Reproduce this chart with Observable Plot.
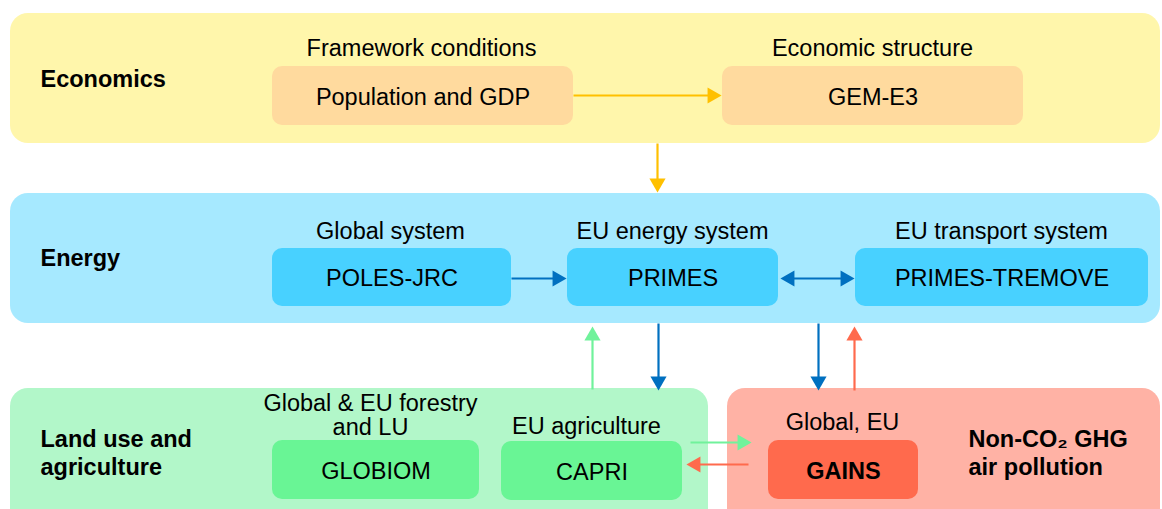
<!DOCTYPE html>
<html><head><meta charset="utf-8">
<script src="https://cdn.jsdelivr.net/npm/d3@7"></script>
<script src="https://cdn.jsdelivr.net/npm/@observablehq/plot@0.6"></script>
<style>
html,body{margin:0;padding:0;background:#fff;}
#chart svg{display:block;}
</style>
</head><body><div id="chart"></div>
<script>
// ---- Data (diagram layout in pixel units of the 1162x509 canvas) ----
const panels = [
  {id: "econ",   x1: 10,  x2: 1160, y1: 13,  y2: 143},
  {id: "energy", x1: 10,  x2: 1160, y1: 193, y2: 323},
  {id: "land",   x1: 10,  x2: 708,  y1: 388, y2: 540},
  {id: "nonco2", x1: 727, x2: 1160, y1: 388, y2: 540}
];
const panelLabels = [
  {text: "Economics", x: 40, y: 78},
  {text: "Energy", x: 40, y: 257},
  {text: "Land use and\nagriculture", x: 40, y: 452},
  {text: "Non-CO\u2082 GHG\nair pollution", x: 968, y: 452}
];
const models = [
  {name: "Population and GDP", panel: "econ",   x1: 272, x2: 573,  y1: 66,  y2: 125},
  {name: "GEM-E3",             panel: "econ",   x1: 722, x2: 1023, y1: 66,  y2: 125},
  {name: "POLES-JRC",          panel: "energy", x1: 272, x2: 511,  y1: 248, y2: 306},
  {name: "PRIMES",             panel: "energy", x1: 567, x2: 778,  y1: 248, y2: 306},
  {name: "PRIMES-TREMOVE",     panel: "energy", x1: 855, x2: 1148, y1: 248, y2: 306},
  {name: "GLOBIOM",            panel: "land",   x1: 272, x2: 479,  y1: 440, y2: 499},
  {name: "CAPRI",              panel: "land",   x1: 501, x2: 682,  y1: 441, y2: 500},
  {name: "GAINS",              panel: "nonco2", x1: 768, x2: 918,  y1: 440, y2: 499}
];
const headers = [
  {text: "Framework conditions", x: 421, y: 48},
  {text: "Economic structure", x: 872, y: 48},
  {text: "Global system", x: 390, y: 231},
  {text: "EU energy system", x: 672, y: 231},
  {text: "EU transport system", x: 1001, y: 231},
  {text: "Global & EU forestry\nand LU", x: 370, y: 415},
  {text: "EU agriculture", x: 586, y: 426},
  {text: "Global, EU", x: 842, y: 422}
];
const links = [
  {from: "Population and GDP", to: "GEM-E3",        x1: 573, y1: 95,  x2: 721, y2: 95,  kind: "econ",   both: false},
  {from: "Economics",          to: "Energy",        x1: 657, y1: 143, x2: 657, y2: 192, kind: "econ",   both: false},
  {from: "POLES-JRC",          to: "PRIMES",        x1: 511, y1: 278, x2: 566, y2: 278, kind: "energy", both: false},
  {from: "PRIMES",             to: "PRIMES-TREMOVE",x1: 780, y1: 278, x2: 854, y2: 278, kind: "energy", both: true},
  {from: "CAPRI",              to: "PRIMES",        x1: 592, y1: 389, x2: 592, y2: 326, kind: "land",   both: false},
  {from: "PRIMES",             to: "CAPRI",         x1: 658, y1: 323, x2: 658, y2: 390, kind: "energy", both: false},
  {from: "PRIMES-TREMOVE",     to: "GAINS",         x1: 818, y1: 323, x2: 818, y2: 390, kind: "energy", both: false},
  {from: "GAINS",              to: "PRIMES-TREMOVE",x1: 854, y1: 390, x2: 854, y2: 326, kind: "nonco2", both: false},
  {from: "CAPRI",              to: "GAINS",         x1: 690, y1: 442, x2: 751, y2: 442, kind: "land",   both: false},
  {from: "GAINS",              to: "CAPRI",         x1: 748, y1: 464, x2: 686, y2: 464, kind: "nonco2", both: false}
];

// ---- Styles ----
const panelFill = {econ: "#fff6ab", energy: "#a6e9ff", land: "#b2f7c9", nonco2: "#ffb2a5"};
const boxFill   = {econ: "#ffda9e", energy: "#48d1ff", land: "#69f595", nonco2: "#ff6a4d"};
const arrowColor= {econ: "#ffc000", energy: "#0070c0", land: "#70f29b", nonco2: "#ff6a4d"};
const FONT = "Liberation Sans, Arial, Helvetica, sans-serif";
const FS = 23.5;
const HEAD_R = 6;                       // triangle symbol radius
const HEAD_OFF = HEAD_R * 8.66 / 5.6;   // centroid-to-tip distance for that radius

// ---- Derived arrow geometry ----
const heads = [];
const shafts = [];
for (const l of links) {
  const dx = l.x2 - l.x1, dy = l.y2 - l.y1, len = Math.hypot(dx, dy);
  const ux = dx / len, uy = dy / len;
  const ang = Math.atan2(ux, -uy) * 180 / Math.PI;
  heads.push({x: l.x2 - ux * HEAD_OFF, y: l.y2 - uy * HEAD_OFF, rotate: ang, kind: l.kind});
  let sx = l.x1, sy = l.y1;
  if (l.both) {
    heads.push({x: l.x1 + ux * HEAD_OFF, y: l.y1 + uy * HEAD_OFF, rotate: ang + 180, kind: l.kind});
    sx = l.x1 + ux * HEAD_OFF; sy = l.y1 + uy * HEAD_OFF;
  }
  shafts.push({x1: sx, y1: sy, x2: l.x2 - ux * HEAD_OFF, y2: l.y2 - uy * HEAD_OFF, kind: l.kind});
}

const chart = Plot.plot({
  width: 1162,
  height: 509,
  margin: 0,
  x: {domain: [0, 1162], axis: null},
  y: {domain: [509, 0], axis: null},
  style: {fontFamily: FONT, background: "#fff"},
  marks: [
    Plot.rect(panels, {x1: "x1", x2: "x2", y1: "y1", y2: "y2", fill: d => panelFill[d.id], rx: 18}),
    Plot.rect(models, {x1: "x1", x2: "x2", y1: "y1", y2: "y2", fill: d => boxFill[d.panel], rx: 10}),
    Plot.link(shafts, {x1: "x1", y1: "y1", x2: "x2", y2: "y2", stroke: d => arrowColor[d.kind], strokeWidth: 2.2}),
    Plot.dot(heads, {x: "x", y: "y", rotate: "rotate", symbol: "triangle", r: HEAD_R, fill: d => arrowColor[d.kind], stroke: "none"}),
    Plot.text(panelLabels, {x: "x", y: "y", text: "text", textAnchor: "start", fontSize: FS, fontWeight: "bold", fill: "#000", lineHeight: 28 / FS, fontFamily: FONT}),
    Plot.text(headers, {x: "x", y: "y", text: "text", textAnchor: "middle", fontSize: FS, fill: "#000", lineHeight: 24 / FS, fontFamily: FONT}),
    Plot.text(models.filter(d => d.name !== "GAINS"), {x: d => (d.x1 + d.x2) / 2, y: d => (d.y1 + d.y2) / 2 + 1, text: "name", fontSize: FS, fill: "#000", fontFamily: FONT}),
    Plot.text(models.filter(d => d.name === "GAINS"), {x: d => (d.x1 + d.x2) / 2, y: d => (d.y1 + d.y2) / 2 + 1, text: "name", fontSize: FS, fontWeight: "bold", fill: "#000", fontFamily: FONT})
  ]
});
document.getElementById("chart").appendChild(chart);
</script>
</body></html>
